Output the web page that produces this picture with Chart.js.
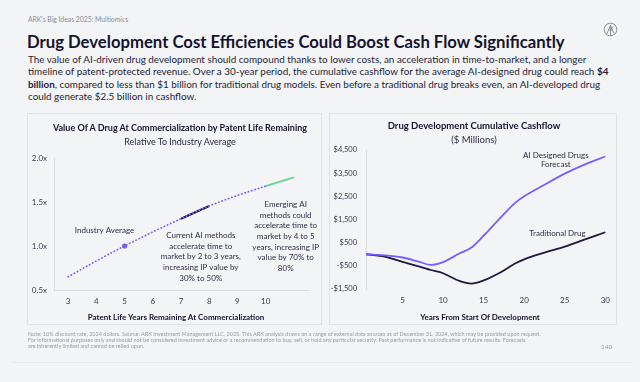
<!DOCTYPE html>
<html>
<head>
<meta charset="utf-8">
<script src="https://cdn.jsdelivr.net/npm/chart.js@4.4.1/dist/chart.umd.min.js"></script>
<style>
  html, body { margin: 0; padding: 0; }
  body {
    width: 640px; height: 382px; overflow: hidden; position: relative;
    background: #f3f4f6; color: #1d1c3a;
    font-family: Lato, "Open Sans", sans-serif;
  }
  .abs { position: absolute; white-space: nowrap; }
  #kicker { left: 28px; top: 15px; font-size: 6.8px; color: #8b8d95; }
  #headline { left: 27px; top: 32px; font-size: 16.7px; font-weight: 700; color: #15142e; }
  #lede { left: 28px; top: 53px; font-size: 9.9px; line-height: 12.4px; color: #1f1e36; }
  #lede b { font-weight: 700; }
  .panel { position: absolute; top: 113px; height: 212px; border: 1px solid #e0e2e6; box-sizing: border-box; pointer-events: none; }
  canvas { position: absolute; top: 113px; }
  .ctitle { position: absolute; width: 320px; text-align: center; font-size: 9px; font-weight: 700; color: #15142e; }
  .csub { position: absolute; width: 320px; text-align: center; font-size: 9px; color: #2c2b44; }
  .xtitle { position: absolute; width: 300px; text-align: center; font-size: 8px; font-weight: 700; color: #15142e; }
  #foot { left: 28px; top: 332px; font-size: 5.5px; line-height: 5.9px; color: #9a9ca4; }
  #page { left: 601px; top: 343px; font-size: 6.5px; color: #9a9ca4; }
  #rule { left: 13px; top: 362px; width: 619px; height: 1px; background: #e7e8eb; }
</style>
</head>
<body>
<div id="kicker" class="abs">ARK’s Big Ideas 2025: Multiomics</div>
<svg class="abs" style="left:603px;top:22px" width="15" height="15" viewBox="0 0 15 15">
  <circle cx="7.5" cy="7.5" r="6.3" fill="none" stroke="#7d7f86" stroke-width="0.9"/>
  <path d="M4 11.5 L7.5 3.5 L11 11.5 M5.6 8 L9.8 8 M7.5 3.5 L7.5 13.6 M7.5 7 L10.5 4.5" fill="none" stroke="#7d7f86" stroke-width="0.8"/>
</svg>
<div id="headline" class="abs">Drug Development Cost Efficiencies Could Boost Cash Flow Significantly</div>
<div id="lede" class="abs">The value of AI-driven drug development should compound thanks to lower costs, an acceleration in time-to-market, and a longer<br>timeline of patent-protected revenue. Over a 30-year period, the cumulative cashflow for the average AI-designed drug could reach <b>$4</b><br><b>billion</b>, compared to less than $1 billion for traditional drug models. Even before a traditional drug breaks even, an AI-developed drug<br>could generate $2.5 billion in cashflow.</div>

<canvas id="patentChart" width="295" height="212" style="left:27px;width:295px;height:212px"></canvas>
<canvas id="cashflowChart" width="288" height="212" style="left:329px;width:288px;height:212px"></canvas>
<div class="panel" style="left:27px;width:295px"></div>
<div class="panel" style="left:329px;width:288px"></div>

<div class="ctitle" style="left:20px;top:122px">Value Of A Drug At Commercialization by Patent Life Remaining</div>
<div class="csub" style="left:20px;top:136px">Relative To Industry Average</div>
<div class="xtitle" style="left:26px;top:312px">Patent Life Years Remaining At Commercialization</div>

<div class="ctitle" style="left:314px;top:120px;font-size:9.5px">Drug Development Cumulative Cashflow</div>
<div class="csub" style="left:314px;top:134px;font-size:9.5px">($ Millions)</div>
<div class="xtitle" style="left:330px;top:312px">Years From Start Of Development</div>

<div id="foot" class="abs">Note: 10% discount rate, 2024 dollars. Source: ARK Investment Management LLC, 2025. This ARK analysis draws on a range of external data sources as of December 31, 2024, which may be provided upon request.<br>For informational purposes only and should not be considered investment advice or a recommendation to buy, sell, or hold any particular security. Past performance is not indicative of future results. Forecasts<br>are inherently limited and cannot be relied upon.</div>
<div id="page" class="abs">140</div>
<div id="rule" class="abs"></div>

<script>
// left chart: value relative to industry average by patent years remaining
const patentYears = [3, 4, 5, 6, 7, 8, 9, 10, 11];
const relativeValue = [0.65, 0.83, 1.0, 1.16, 1.31, 1.455, 1.575, 1.68, 1.78];
const patentTicks = [3, 4, 5, 6, 7, 8, 9, 10];
const valueTicks = [0.5, 1.0, 1.5, 2.0];

// right chart: cumulative cashflow ($M)
const yearsFromStart = [0.5, 2.5, 5, 7, 8.5, 10, 12, 13.5, 15, 17, 19, 20, 22.5, 25, 27.5, 30];
const aiDesigned = [0, -40, -140, -320, -460, -340, 30, 290, 800, 1550, 2250, 2500, 3000, 3480, 3880, 4220];
const traditional = [0, -80, -330, -520, -680, -820, -1150, -1265, -1130, -800, -380, -220, 70, 330, 640, 950];
const yearTicks = [5, 10, 15, 20, 25, 30];
const cashTicks = [-1500, -500, 500, 1500, 2500, 3500, 4500];

const FONT = "Lato, 'Open Sans', sans-serif";
const PURPLE = "#7b5cff";
const NAVY = "#1c1a3d";
const GREEN = "#62d58f";
const AXIS = "#dadce1";
const TICK = "#3a394f";

function pts(xs, ys, from, to) {
  const out = [];
  xs.forEach((x, i) => { if (x >= from && x <= to) out.push({ x: x, y: ys[i] }); });
  return out;
}

// texto de notas dentro del grafico, en coordenadas de datos
const noteLabels = {
  id: "noteLabels",
  afterDatasetsDraw(chart, args, opts) {
    const { ctx, scales } = chart;
    ctx.save();
    ctx.font = opts.font;
    ctx.fillStyle = opts.color;
    ctx.textAlign = "center";
    ctx.textBaseline = "middle";
    opts.items.forEach(item => {
      const px = scales.x.getPixelForValue(item.x);
      const py = scales.y.getPixelForValue(item.y);
      item.lines.forEach((line, i) => ctx.fillText(line, px, py + i * opts.lineHeight));
    });
    ctx.restore();
  }
};

new Chart(document.getElementById("patentChart"), {
  type: "line",
  data: {
    datasets: [
      {
        label: "Industry Average",
        data: pts(patentYears, relativeValue, 3, 10),
        borderColor: PURPLE,
        borderWidth: 1.7,
        borderDash: [0.4, 3.1],
        borderCapStyle: "round",
        cubicInterpolationMode: "monotone",
        pointRadius: ctx => (ctx.raw && ctx.raw.x === 5 ? 2.6 : 0),
        pointBackgroundColor: PURPLE,
        pointBorderWidth: 0
      },
      {
        label: "Current AI methods",
        data: pts(patentYears, relativeValue, 7, 8),
        borderColor: NAVY,
        borderWidth: 2.2,
        pointRadius: 0
      },
      {
        label: "Emerging AI methods",
        data: pts(patentYears, relativeValue, 10, 11),
        borderColor: GREEN,
        borderWidth: 2,
        pointRadius: 0
      }
    ]
  },
  options: {
    responsive: false,
    animation: false,
    layout: { padding: { top: 45, right: 14, left: 0, bottom: 0 } },
    plugins: {
      legend: { display: false },
      tooltip: { enabled: false },
      noteLabels: {
        font: "8px " + FONT,
        color: "#2e2d44",
        lineHeight: 10.7,
        items: [
          { x: 4.29, y: 1.174, lines: ["Industry Average"] },
          { x: 7.7, y: 1.122, lines: ["Current AI methods", "accelerate time to", "market by 2 to 3 years,", "increasing IP value by", "30% to 50%"] },
          { x: 10.71, y: 1.474, lines: ["Emerging AI", "methods could", "accelerate time to", "market by 4 to 5", "years, increasing IP", "value by 70% to", "80%"] }
        ]
      }
    },
    scales: {
      x: {
        type: "linear",
        min: 2.5,
        max: 11.5,
        afterBuildTicks: s => { s.ticks = patentTicks.map(v => ({ value: v })); },
        afterFit: s => { s.height = 35; },
        grid: { color: "transparent", drawTicks: false },
        border: { color: AXIS, width: 1 },
        ticks: { padding: 7, color: TICK, font: { size: 8, family: FONT } }
      },
      y: {
        min: 0.5,
        max: 2.0,
        afterBuildTicks: s => { s.ticks = valueTicks.map(v => ({ value: v })); },
        afterFit: s => { s.width = 27; },
        grid: { color: "transparent", drawTicks: false },
        border: { color: AXIS, width: 1 },
        ticks: { padding: 7, color: TICK, font: { size: 8, family: FONT }, callback: v => v.toFixed(1) + "x" }
      }
    }
  },
  plugins: [noteLabels]
});

new Chart(document.getElementById("cashflowChart"), {
  type: "line",
  data: {
    datasets: [
      {
        label: "AI Designed Drugs Forecast",
        data: pts(yearsFromStart, aiDesigned, 0, 30),
        borderColor: PURPLE,
        borderWidth: 1.8,
        cubicInterpolationMode: "monotone",
        pointRadius: 0
      },
      {
        label: "Traditional Drug",
        data: pts(yearsFromStart, traditional, 0, 30),
        borderColor: NAVY,
        borderWidth: 1.8,
        cubicInterpolationMode: "monotone",
        pointRadius: 0
      }
    ]
  },
  options: {
    responsive: false,
    animation: false,
    layout: { padding: { top: 37, right: 6.5, left: 0, bottom: 0 } },
    plugins: {
      legend: { display: false },
      tooltip: { enabled: false },
      noteLabels: {
        font: "8px " + FONT,
        color: "#2e2d44",
        lineHeight: 8.6,
        items: [
          { x: 23.9, y: 4253, lines: ["AI Designed Drugs", "Forecast"] },
          { x: 24.1, y: 917, lines: ["Traditional Drug"] }
        ]
      }
    },
    scales: {
      x: {
        type: "linear",
        min: 0.5,
        max: 30.3,
        afterBuildTicks: s => { s.ticks = yearTicks.map(v => ({ value: v })); },
        afterFit: s => { s.height = 36; },
        grid: { color: "transparent", drawTicks: false },
        border: { display: false },
        ticks: { padding: 7, color: TICK, font: { size: 8, family: FONT } }
      },
      y: {
        min: -1500,
        max: 4500,
        afterBuildTicks: s => { s.ticks = cashTicks.map(v => ({ value: v })); },
        afterFit: s => { s.width = 37; },
        grid: {
          drawTicks: false,
          color: ctx => (ctx.tick && ctx.tick.value === 0 ? AXIS : "transparent")
        },
        border: { color: AXIS, width: 1 },
        ticks: {
          padding: 9, color: TICK, font: { size: 7.5, family: FONT },
          callback: v => (v < 0 ? "-$" : "$") + Math.abs(v).toLocaleString("en-US")
        }
      }
    }
  },
  plugins: [noteLabels]
});
</script>
</body>
</html>
